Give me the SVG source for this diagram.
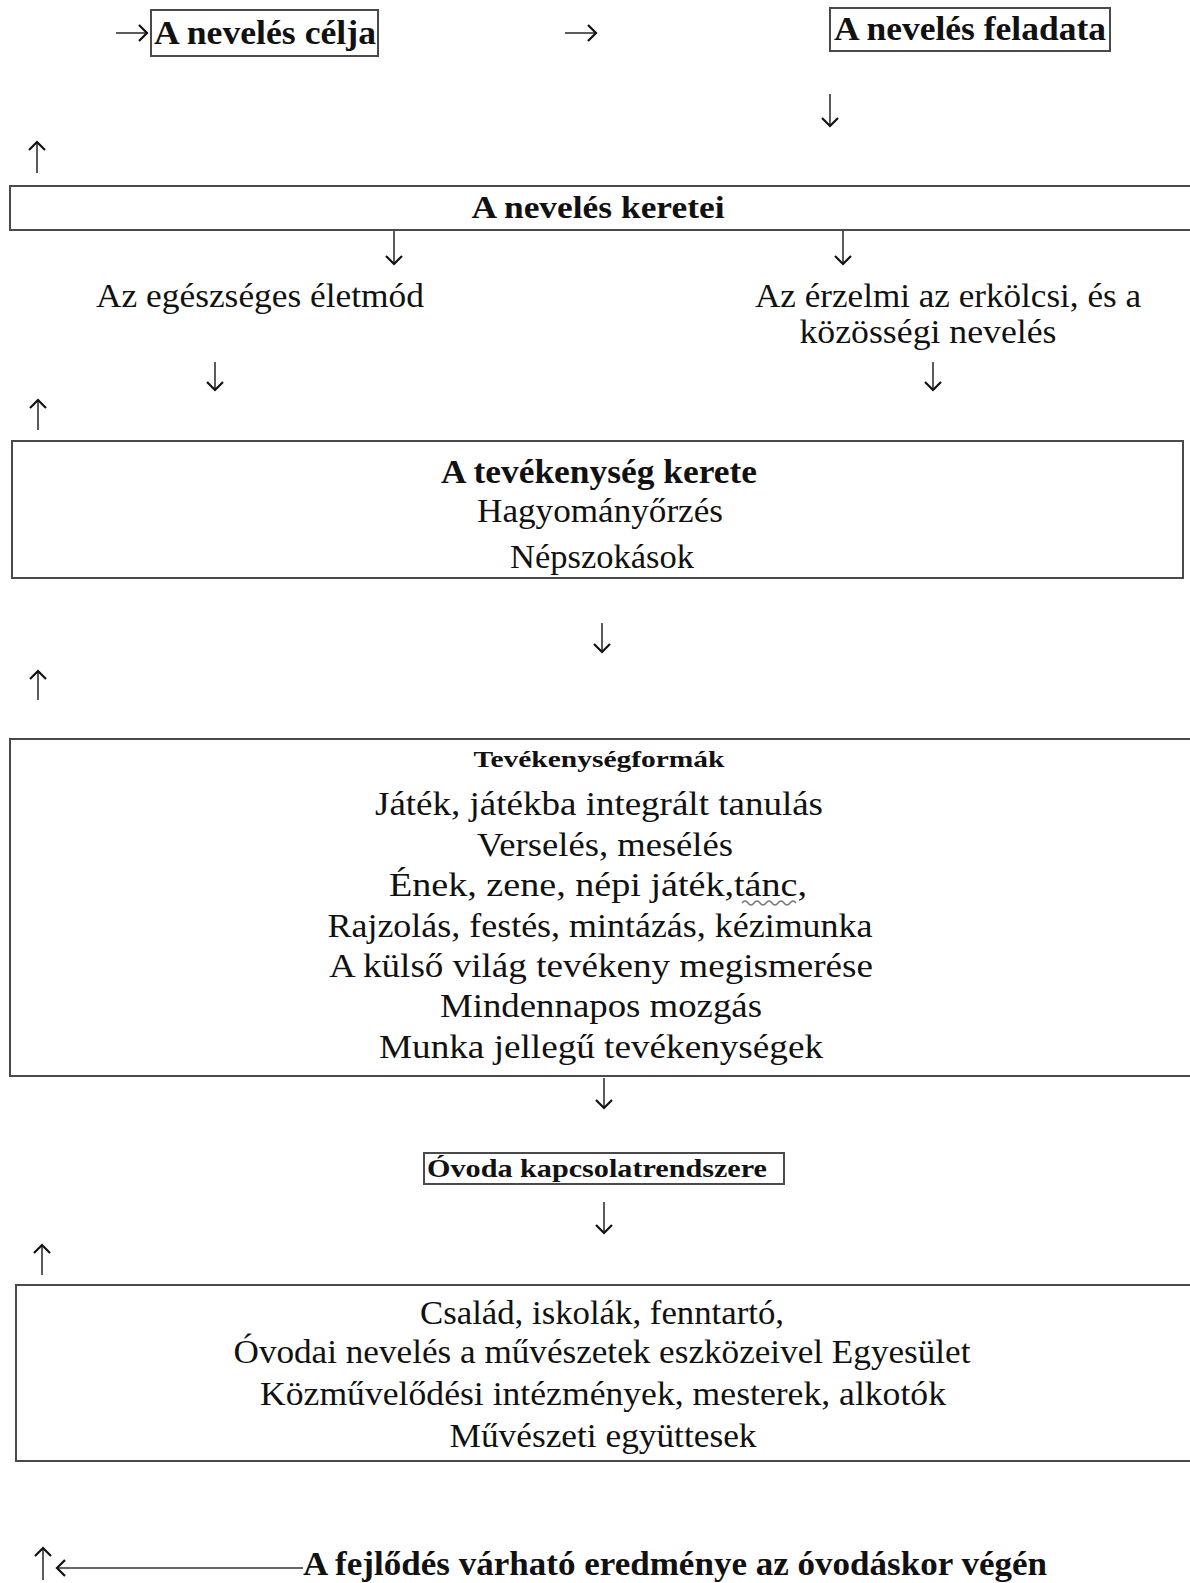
<svg xmlns="http://www.w3.org/2000/svg" width="1190" height="1583" viewBox="0 0 1190 1583">
<defs>
<style>
.box{fill:none;stroke:#4a4a4a;stroke-width:2}
.t{font-family:"Liberation Serif","Times New Roman",serif;fill:#111;text-anchor:middle}
.b{font-weight:bold}
.ln{stroke:#333;stroke-width:1.6;fill:none}
</style>
<marker id="ah" viewBox="-10 -10 20 20" refX="0" refY="0" markerUnits="userSpaceOnUse" markerWidth="20" markerHeight="20" orient="auto">
<path d="M-8,-8 L0,0 L-8,8" fill="none" stroke="#111" stroke-width="2.2"/>
</marker>
</defs>
<rect width="1190" height="1583" fill="#fff"/>

<g id="node-celja">
<rect class="box" x="151" y="10" width="227" height="46"/>
<text class="t b" x="265" y="44" font-size="33" textLength="222" lengthAdjust="spacingAndGlyphs">A nevelés célja</text>
</g>
<g id="node-feladata">
<rect class="box" x="830" y="8" width="280" height="43"/>
<text class="t b" x="970" y="40" font-size="33" textLength="272" lengthAdjust="spacingAndGlyphs">A nevelés feladata</text>
</g>
<g id="node-keretei">
<rect class="box" x="10" y="186" width="1184" height="44"/>
<text class="t b" x="598" y="218" font-size="31" textLength="253" lengthAdjust="spacingAndGlyphs">A nevelés keretei</text>
</g>
<g id="node-eletmod">
<text class="t" x="260" y="307" font-size="34" textLength="328" lengthAdjust="spacingAndGlyphs">Az egészséges életmód</text>
</g>
<g id="node-erzelmi">
<text class="t" x="948" y="307" font-size="34" textLength="386" lengthAdjust="spacingAndGlyphs">Az érzelmi az erkölcsi, és a</text>
<text class="t" x="928" y="343" font-size="34" textLength="257" lengthAdjust="spacingAndGlyphs">közösségi nevelés</text>
</g>
<g id="node-tevkeret">
<rect class="box" x="12" y="441" width="1171" height="137"/>
<text class="t b" x="599" y="483" font-size="33" textLength="316" lengthAdjust="spacingAndGlyphs">A tevékenység kerete</text>
<text class="t" x="600" y="522" font-size="34" textLength="246" lengthAdjust="spacingAndGlyphs">Hagyományőrzés</text>
<text class="t" x="602" y="568" font-size="34" textLength="184" lengthAdjust="spacingAndGlyphs">Népszokások</text>
</g>
<g id="node-formak">
<rect class="box" x="10" y="739" width="1184" height="337"/>
<text class="t b" x="599" y="767" font-size="23" textLength="251" lengthAdjust="spacingAndGlyphs">Tevékenységformák</text>
<text class="t" x="599" y="815" font-size="33" textLength="448" lengthAdjust="spacingAndGlyphs">Játék, játékba integrált tanulás</text>
<text class="t" x="605" y="856" font-size="33" textLength="256" lengthAdjust="spacingAndGlyphs">Verselés, mesélés</text>
<text class="t" x="598" y="896" font-size="33" textLength="418" lengthAdjust="spacingAndGlyphs">Ének, zene, népi játék,tánc,</text>
<text class="t" x="600" y="937" font-size="33" textLength="545" lengthAdjust="spacingAndGlyphs">Rajzolás, festés, mintázás, kézimunka</text>
<text class="t" x="601" y="977" font-size="33" textLength="544" lengthAdjust="spacingAndGlyphs">A külső világ tevékeny megismerése</text>
<text class="t" x="601" y="1017" font-size="33" textLength="322" lengthAdjust="spacingAndGlyphs">Mindennapos mozgás</text>
<text class="t" x="601" y="1058" font-size="33" textLength="444" lengthAdjust="spacingAndGlyphs">Munka jellegű tevékenységek</text>
<path d="M742,903 q3,-4 6,0 t6,0 t6,0 t6,0 t6,0 t6,0 t6,0 t6,0 t6,0" fill="none" stroke="#777" stroke-width="1.4"/>
</g>
<g id="node-kapcsolat">
<rect class="box" x="424" y="1153" width="360" height="31"/>
<text class="t b" x="597" y="1177" font-size="26" textLength="340" lengthAdjust="spacingAndGlyphs">Óvoda kapcsolatrendszere</text>
</g>
<g id="node-partnerek">
<rect class="box" x="16" y="1285" width="1178" height="176"/>
<text class="t" x="602" y="1324" font-size="33" textLength="364" lengthAdjust="spacingAndGlyphs">Család, iskolák, fenntartó,</text>
<text class="t" x="602" y="1363" font-size="33" textLength="737" lengthAdjust="spacingAndGlyphs">Óvodai nevelés a művészetek eszközeivel Egyesület</text>
<text class="t" x="603" y="1405" font-size="33" textLength="686" lengthAdjust="spacingAndGlyphs">Közművelődési intézmények, mesterek, alkotók</text>
<text class="t" x="603" y="1447" font-size="33" textLength="307" lengthAdjust="spacingAndGlyphs">Művészeti együttesek</text>
</g>
<g id="node-eredmeny">
<text class="t b" x="675" y="1575" font-size="33" textLength="744" lengthAdjust="spacingAndGlyphs">A fejlődés várható eredménye az óvodáskor végén</text>
</g>

<g id="connectors" class="ln">
<path d="M116,33 L147,33" marker-end="url(#ah)"/>
<path d="M565,33 L596,33" marker-end="url(#ah)"/>
<path d="M830,94 L830,126" marker-end="url(#ah)"/>
<path d="M37,173 L37,142" marker-end="url(#ah)"/>
<path d="M394,231 L394,264" marker-end="url(#ah)"/>
<path d="M843,231 L843,264" marker-end="url(#ah)"/>
<path d="M215,362 L215,390" marker-end="url(#ah)"/>
<path d="M933,362 L933,390" marker-end="url(#ah)"/>
<path d="M38,430 L38,400" marker-end="url(#ah)"/>
<path d="M602,623 L602,652" marker-end="url(#ah)"/>
<path d="M38,700 L38,671" marker-end="url(#ah)"/>
<path d="M604,1078 L604,1108" marker-end="url(#ah)"/>
<path d="M604,1202 L604,1233" marker-end="url(#ah)"/>
<path d="M42,1275 L42,1245" marker-end="url(#ah)"/>
<path d="M43,1580 L43,1548" marker-end="url(#ah)"/>
<path d="M303,1568 L57,1568" marker-end="url(#ah)"/>
</g>
</svg>
